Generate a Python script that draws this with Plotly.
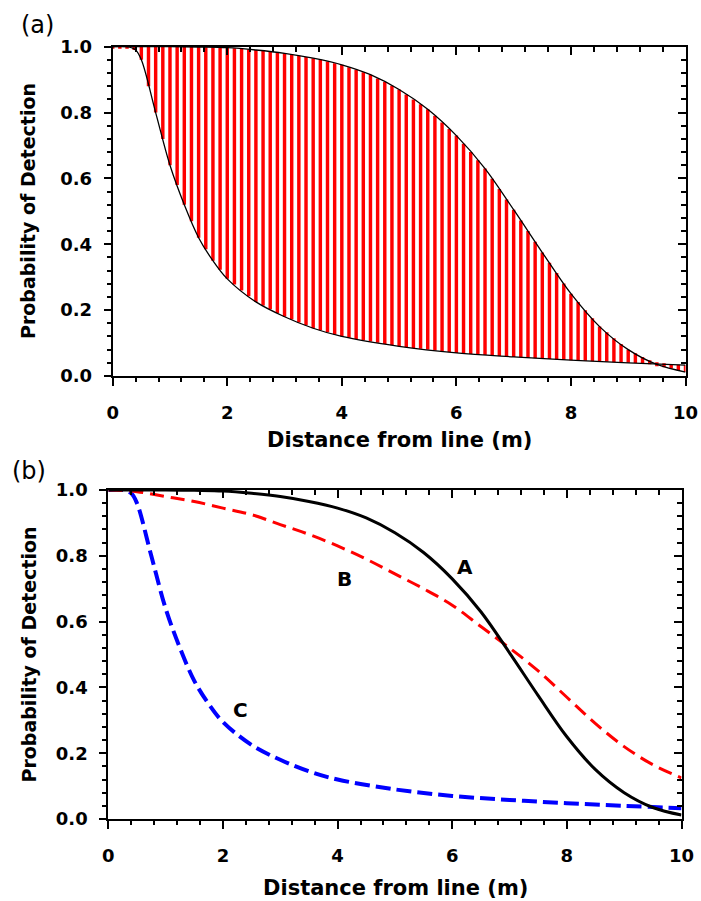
import numpy as np
import plotly.graph_objects as go

# ---- data ----
xa = [0, 0.5, 1, 1.5, 2, 2.5, 3, 3.5, 4, 4.5, 5, 5.5, 6, 6.5, 7, 7.5, 8, 8.5, 9, 9.5, 10]
curve_a = [1.0, 1.0, 1.0, 0.999, 0.997, 0.99, 0.98, 0.965, 0.945, 0.915, 0.87, 0.81, 0.73, 0.63, 0.505, 0.375, 0.25, 0.15, 0.08, 0.035, 0.012]

xb = [0, 0.5, 1, 1.5, 2, 2.5, 3, 3.5, 4, 4.5, 5, 5.5, 6, 6.5, 7, 7.5, 8, 8.5, 9, 9.5, 10]
curve_b = [1.0, 0.995, 0.98, 0.965, 0.945, 0.925, 0.895, 0.865, 0.83, 0.79, 0.745, 0.70, 0.65, 0.585, 0.52, 0.45, 0.37, 0.29, 0.22, 0.165, 0.125]

xc = [0, 0.25, 0.4, 0.5, 0.75, 1.0, 1.25, 1.5, 1.75, 2, 2.5, 3, 3.5, 4, 5, 6, 7, 8, 9, 10]
curve_c = [1.0, 1.0, 0.99, 0.96, 0.80, 0.64, 0.52, 0.42, 0.35, 0.295, 0.225, 0.18, 0.145, 0.12, 0.09, 0.07, 0.058, 0.048, 0.04, 0.033]

x_ticks = [0, 2, 4, 6, 8, 10]
y_ticks = [0.0, 0.2, 0.4, 0.6, 0.8, 1.0]
x_tick_labels = ["0", "2", "4", "6", "8", "10"]
y_tick_labels = ["0.0", "0.2", "0.4", "0.6", "0.8", "1.0"]
x_title = "Distance from line (m)"
y_title = "Probability of Detection"
curve_labels = ["A", "B", "C"]
label_x = [6.23, 4.12, 2.30]
label_y = [0.767, 0.73, 0.33]

# positions of the hatching bars in panel (a)
bar_x = list(np.arange(0, 10.0001, 0.125))

FONT = "DejaVu Sans, Liberation Sans, Arial, sans-serif"
W, H = 701, 901

fig = go.Figure()

# ---- panel (a): hatched band between curves A and C ----
bx = np.array(bar_x)
ya = np.interp(bx, xa, curve_a)
yc = np.interp(bx, xc, curve_c)
lo = np.minimum(ya, yc)
hi = np.maximum(ya, yc)
mid = (lo + hi) / 2
small = (hi - lo) < 0.012
lo = np.where(small, mid - 0.006, lo)
hi = np.where(small, mid + 0.006, hi)
fig.add_trace(go.Bar(x=bx, y=hi - lo, base=lo, width=0.06, marker=dict(color="#ff0000", line=dict(width=0)),
                     xaxis="x", yaxis="y", cliponaxis=False, showlegend=False))
fig.add_trace(go.Scatter(x=xa, y=curve_a, mode="lines", line=dict(color="black", width=1.3, shape="spline", smoothing=1.0),
                         xaxis="x", yaxis="y", showlegend=False))
fig.add_trace(go.Scatter(x=xc, y=curve_c, mode="lines", line=dict(color="black", width=1.3, shape="spline", smoothing=1.0),
                         xaxis="x", yaxis="y", showlegend=False))
fig.add_trace(go.Scatter(x=[0], y=[0], mode="markers", marker=dict(opacity=0), xaxis="x2", yaxis="y2",
                         showlegend=False, hoverinfo="skip"))

# ---- panel (b): three curves ----
fig.add_trace(go.Scatter(x=xc, y=curve_c, mode="lines",
                         line=dict(color="#0000ff", width=4, dash="15px,6px", shape="spline", smoothing=1.0),
                         xaxis="x3", yaxis="y3", showlegend=False))
fig.add_trace(go.Scatter(x=xb, y=curve_b, mode="lines",
                         line=dict(color="#ff0000", width=3, dash="14px,7px", shape="spline", smoothing=1.0),
                         xaxis="x3", yaxis="y3", showlegend=False))
fig.add_trace(go.Scatter(x=xa, y=curve_a, mode="lines", line=dict(color="black", width=3, shape="spline", smoothing=1.0),
                         xaxis="x3", yaxis="y3", showlegend=False))
fig.add_trace(go.Scatter(x=[0], y=[0], mode="markers", marker=dict(opacity=0), xaxis="x4", yaxis="y4",
                         showlegend=False, hoverinfo="skip"))

tickfont = dict(family=FONT, size=18, color="black", weight="bold")


def xmain(dom, anchor):
    return dict(domain=dom, anchor=anchor, range=[0, 10], showgrid=False, zeroline=False, automargin=False,
                showline=True, linecolor="black", linewidth=2,
                tickmode="array", tickvals=x_ticks, ticktext=x_tick_labels, tickfont=tickfont,
                ticks="outside", ticklen=8, tickwidth=1.5, tickcolor="black", ticklabelstandoff=11,
                minor=dict(tick0=0, dtick=0.4, ticks="outside", ticklen=4, tickwidth=1.5, tickcolor="black"))


def ymain(dom, anchor):
    return dict(domain=dom, anchor=anchor, range=[0, 1], showgrid=False, zeroline=False, automargin=False,
                showline=True, linecolor="black", linewidth=2,
                tickmode="array", tickvals=y_ticks, ticktext=y_tick_labels, tickfont=tickfont,
                ticks="outside", ticklen=7, tickwidth=1.5, tickcolor="black", ticklabelstandoff=8,
                minor=dict(tick0=0, dtick=0.04, ticks="outside", ticklen=4, tickwidth=1.5, tickcolor="black"))


def xtop(over, anchor):
    return dict(overlaying=over, anchor=anchor, side="top", range=[0, 10], showgrid=False, zeroline=False,
                automargin=False,
                showline=True, linecolor="black", linewidth=2, showticklabels=False,
                tickmode="array", tickvals=x_ticks,
                ticks="inside", ticklen=8, tickwidth=1.5, tickcolor="black",
                minor=dict(tick0=0, dtick=0.4, ticks="inside", ticklen=5, tickwidth=1.5, tickcolor="black"))


def yright(over, anchor):
    return dict(overlaying=over, anchor=anchor, side="right", range=[0, 1], showgrid=False, zeroline=False,
                automargin=False,
                showline=True, linecolor="black", linewidth=2, showticklabels=False,
                tickmode="array", tickvals=y_ticks,
                ticks="inside", ticklen=8, tickwidth=1.5, tickcolor="black",
                minor=dict(tick0=0, dtick=0.04, ticks="inside", ticklen=5, tickwidth=1.5, tickcolor="black"))


dom_ax = [112.7 / W, 685.5 / W]
dom_ay = [1 - 376 / H, 1 - 46.7 / H]
dom_bx = [108.3 / W, 681.5 / W]
dom_by = [1 - 819 / H, 1 - 490 / H]

annotations = []
# panel labels
annotations.append(dict(text="(a)", x=37 / W, y=1 - 25 / H, xref="paper", yref="paper", showarrow=False,
                        font=dict(family=FONT, size=24, color="black"), xanchor="center", yanchor="middle"))
annotations.append(dict(text="(b)", x=29 / W, y=1 - 471 / H, xref="paper", yref="paper", showarrow=False,
                        font=dict(family=FONT, size=24, color="black"), xanchor="center", yanchor="middle"))
# axis titles
for cx, cy in [(399, 440), (395, 888)]:
    annotations.append(dict(text=x_title, x=cx / W, y=1 - cy / H, xref="paper", yref="paper", showarrow=False,
                            font=dict(family=FONT, size=21, color="black", weight="bold"),
                            xanchor="center", yanchor="middle"))
for cx, cy in [(28, 211), (28, 654.5)]:
    annotations.append(dict(text=y_title, x=cx / W, y=1 - cy / H, xref="paper", yref="paper", showarrow=False,
                            textangle=-90, font=dict(family=FONT, size=19, color="black", weight="bold"),
                            xanchor="center", yanchor="middle"))
# curve labels
for t, lx, ly in zip(curve_labels, label_x, label_y):
    annotations.append(dict(text=t, x=lx, y=ly, xref="x3", yref="y3", showarrow=False,
                            font=dict(family=FONT, size=20, color="black", weight="bold"),
                            xanchor="center", yanchor="middle"))

fig.update_layout(
    width=W, height=H, margin=dict(l=0, r=0, t=0, b=0, autoexpand=False),
    paper_bgcolor="white", plot_bgcolor="white", showlegend=False, barmode="overlay",
    xaxis=xmain(dom_ax, "y"), yaxis=ymain(dom_ay, "x"),
    xaxis2=xtop("x", "y2"), yaxis2=yright("y", "x2"),
    xaxis3=xmain(dom_bx, "y3"), yaxis3=ymain(dom_by, "x3"),
    xaxis4=xtop("x3", "y4"), yaxis4=yright("y3", "x4"),
    annotations=annotations,
)

fig.write_html("out.html", config={"displayModeBar": False},
               post_script="document.body.style.margin='0';document.body.style.padding='0';")
